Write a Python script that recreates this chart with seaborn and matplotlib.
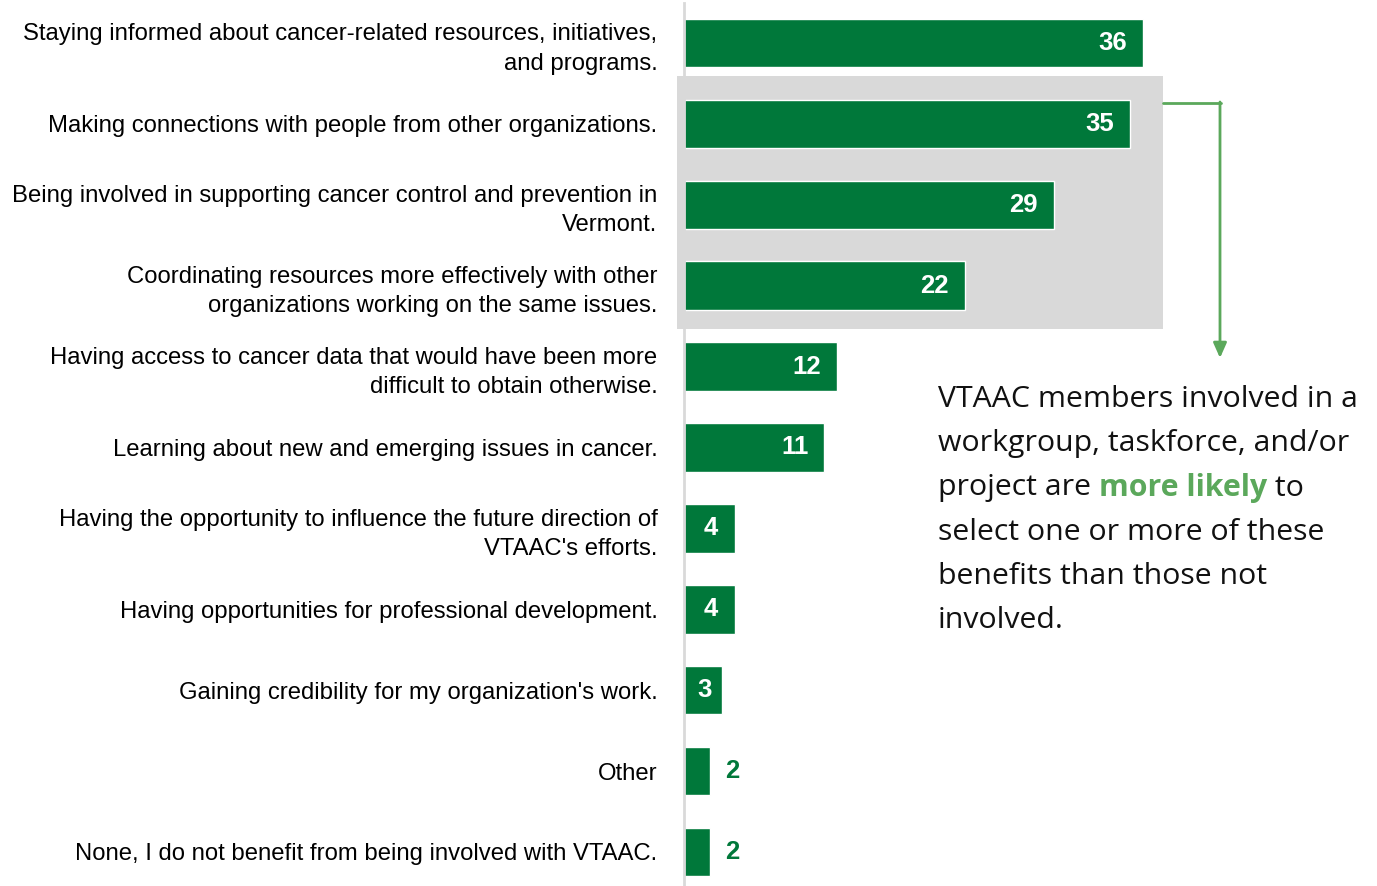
import matplotlib
matplotlib.use("Agg")
import matplotlib.pyplot as plt
import seaborn as sns
import pandas as pd
from matplotlib.patches import Rectangle
from matplotlib import font_manager

categories = [
    "Staying informed about cancer-related resources, initiatives,\nand programs.",
    "Making connections with people from other organizations.",
    "Being involved in supporting cancer control and prevention in\nVermont.",
    "Coordinating resources more effectively with other\norganizations working on the same issues.",
    "Having access to cancer data that would have been more\ndifficult to obtain otherwise.",
    "Learning about new and emerging issues in cancer.",
    "Having the opportunity to influence the future direction of\nVTAAC's efforts.",
    "Having opportunities for professional development.",
    "Gaining credibility for my organization's work.",
    "Other",
    "None, I do not benefit from being involved with VTAAC.",
]
values = [36, 35, 29, 22, 12, 11, 4, 4, 3, 2, 2]

note_lines = [
    "VTAAC members involved in a",
    "workgroup, taskforce, and/or",
    None,
    "select one or more of these",
    "benefits than those not",
    "involved.",
]

BAR = "#00783A"
ARROW = "#5BA85B"
GRAY = "#D9D9D9"

sns.set_style("white")
names = {f.name for f in font_manager.fontManager.ttflist}
label_font = "Liberation Sans Narrow" if "Liberation Sans Narrow" in names else "Liberation Sans"
note_font = "Open Sans"

W, H = 1377, 886
fig = plt.figure(figsize=(W / 100, H / 100), dpi=100)
x0 = 684
ppu = 12.75
top_px, step = 43, 80.9
ax_top = top_px - step / 2
ax_bot = top_px + step * 10 + step / 2
ax = fig.add_axes([x0 / W, 1 - ax_bot / H, (W - x0) / W, (ax_bot - ax_top) / H])

df = pd.DataFrame({"cat": categories, "val": values})
sns.barplot(data=df, y="cat", x="val", orient="h", color=BAR, width=0.6,
            saturation=1, ax=ax, zorder=3)
ax.set_xlim(0, (W - x0) / ppu)
ax.set_ylim(len(values) - 0.5, -0.5)
ax.set_xlabel("")
ax.set_ylabel("")
ax.set_xticks([])
for s in ["top", "right", "bottom"]:
    ax.spines[s].set_visible(False)
ax.spines["left"].set_color(GRAY)
ax.spines["left"].set_linewidth(2)
ax.spines["left"].set_zorder(4)
ax.tick_params(axis="y", length=0, pad=19)
for t in ax.get_yticklabels():
    t.set_fontfamily(label_font)
    t.set_fontsize(17.2)
    t.set_color("#000000")
    t.set_linespacing(1.42)
    t.set_horizontalalignment("right")

# highlight box
ax.add_patch(Rectangle((-7 / ppu, 0.408), (1163 - 677) / ppu, 3.535 - 0.408,
                       facecolor=GRAY, edgecolor="none", zorder=1, clip_on=False))

# value labels
for i, v in enumerate(values):
    if v > 4:
        ax.text(v - 1.25, i, str(v), ha="right", va="center", color="white",
                fontsize=18.5, fontweight="bold", fontfamily=label_font, zorder=5)
    elif v >= 3:
        ax.text(v / 2 + 0.1, i, str(v), ha="center", va="center", color="white",
                fontsize=18.5, fontweight="bold", fontfamily=label_font, zorder=5)
    else:
        ax.text(v + 1.2, i, str(v), ha="left", va="center", color=BAR,
                fontsize=18.5, fontweight="bold", fontfamily=label_font, zorder=5)

# arrow
fx = lambda px: px / W
fy = lambda py: 1 - py / H
fig.add_artist(plt.Line2D([fx(1163), fx(1221)], [fy(103), fy(103)], color=ARROW, lw=2))
ax.annotate("", xy=(fx(1220), fy(358)), xytext=(fx(1220), fy(102)),
            xycoords="figure fraction", textcoords="figure fraction",
            arrowprops=dict(arrowstyle="-|>,head_width=0.4,head_length=0.9",
                            color=ARROW, lw=2, shrinkA=0, shrinkB=0))

# note text
fs = 21.8
y_first = 400
for k, line in enumerate(note_lines):
    y = fy(y_first + 44 * k)
    if line is not None:
        fig.text(fx(938), y, line, fontsize=fs, fontfamily=note_font, va="center",
                 ha="left", color="#111111")
    else:
        renderer = fig.canvas.get_renderer()
        t1 = fig.text(fx(938), y, "project are ", fontsize=fs, fontfamily=note_font,
                      va="center", ha="left", color="#111111")
        bb = t1.get_window_extent(renderer)
        t2 = fig.text(bb.x1 / W, y, "more likely", fontsize=fs, fontfamily=note_font,
                      fontweight="bold", va="center", ha="left", color=ARROW)
        bb2 = t2.get_window_extent(renderer)
        fig.text(bb2.x1 / W, y, " to", fontsize=fs, fontfamily=note_font,
                 va="center", ha="left", color="#111111")

fig.savefig("out.png", dpi=100)
